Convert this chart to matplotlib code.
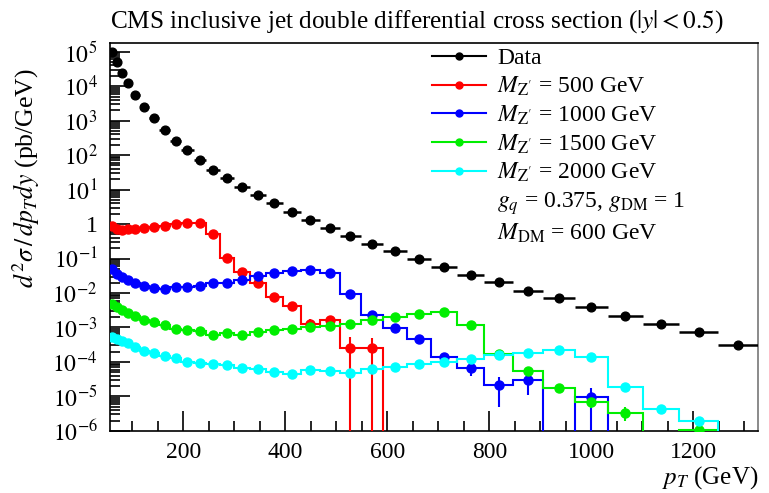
import numpy as np
import matplotlib
matplotlib.use("Agg")
import matplotlib.pyplot as plt
from matplotlib.lines import Line2D
from matplotlib.ticker import FixedLocator, MultipleLocator, FuncFormatter, LogLocator, NullFormatter

plt.rcParams['font.family'] = ['Liberation Serif', 'DejaVu Serif']
plt.rcParams['mathtext.fontset'] = 'stix'

# pT bin edges (GeV)
edges = [56, 64, 74, 84, 97, 114, 133, 153, 174, 196, 220, 245, 272, 300, 330,
         362, 395, 430, 468, 507, 548, 592, 638, 686, 737, 790, 846, 905, 967,
         1032, 1101, 1172, 1248, 1327]

# CMS data, pb/GeV
data = [9.5e4, 4.9e4, 2.4e4, 1.23e4, 5.6e3, 2.57e3, 1.2e3, 540, 258, 141, 73,
        37, 22, 12, 6.9, 4.1, 2.2, 1.3, 0.77, 0.45, 0.26, 0.165, 0.096, 0.056,
        0.033, 0.0205, 0.0113, 0.0071, 0.0039, 0.0021, 0.0013, 7.2e-4, 3.0e-4]

# signal, M_Z' = 500 / 1000 / 1500 / 2000 GeV
m500 = [0.87, 0.72, 0.68, 0.70, 0.73, 0.76, 0.80, 0.87, 1.0, 1.09, 1.09, 0.50,
        0.107, 0.040, 0.020, 0.0078, 0.0043, 0.0013, 0.0016, 2.6e-4, 2.5e-4,
        0, 0, 0, 0, 0, 0, 0, 0, 0, 0, 0, 0]
m1000 = [0.051, 0.035, 0.029, 0.024, 0.019, 0.016, 0.014, 0.0135, 0.0145, 0.015,
         0.016, 0.0196, 0.0196, 0.024, 0.031, 0.038, 0.043, 0.046, 0.038, 0.0093,
         0.0023, 9.7e-4, 4.6e-4, 1.35e-4, 6.5e-5, 2.1e-5, 2.9e-5, 0, 9.3e-6,
         0, 0, 0, 0]
m1500 = [0.0049, 0.0039, 0.0032, 0.0026, 0.0021, 0.0016, 0.00145, 0.0012, 9.3e-4,
         8.3e-4, 7.8e-4, 6.2e-4, 7.1e-4, 6.2e-4, 7.4e-4, 8.3e-4, 8.9e-4, 1.03e-3,
         1.1e-3, 1.3e-3, 1.7e-3, 2.0e-3, 2.4e-3, 2.8e-3, 1.2e-3, 1.74e-4, 5.3e-5,
         1.8e-5, 6.7e-6, 3.4e-6, 0, 1.05e-6, 0]
m2000 = [5.3e-4, 4.6e-4, 4.0e-4, 3.5e-4, 2.7e-4, 2.1e-4, 1.8e-4, 1.45e-4, 1.26e-4,
         9.7e-5, 9.1e-5, 8.5e-5, 7.9e-5, 6.5e-5, 6.1e-5, 5.0e-5, 4.4e-5, 5.7e-5,
         5.3e-5, 4.9e-5, 6.2e-5, 7.0e-5, 8.5e-5, 1.0e-4, 1.22e-4, 1.58e-4, 1.8e-4,
         2.15e-4, 1.35e-4, 1.85e-5, 4.4e-6, 1.95e-6, 0]

# statistical uncertainties of the signal samples
m500_err = [0] * 17 + [5e-4, 4e-4, 2.6e-4, 2.5e-4] + [0] * 12
m1000_err = [0] * 22 + [5e-5, 2e-5, 2.5e-5, 1.6e-5, 1.8e-5, 0, 8.5e-6, 0, 0, 0, 0]
m1500_err = [0] * 27 + [3e-6, 2e-6, 1.5e-6, 0, 0.8e-6, 0]
m2000_err = [0] * 29 + [2e-6, 1e-6, 0.5e-6, 0]

signals = [
    (m500, m500_err, 'red', r'$M_{\mathrm{Z}^{\prime}}$ = 500 GeV'),
    (m1000, m1000_err, 'blue', r'$M_{\mathrm{Z}^{\prime}}$ = 1000 GeV'),
    (m1500, m1500_err, '#00ee00', r'$M_{\mathrm{Z}^{\prime}}$ = 1500 GeV'),
    (m2000, m2000_err, 'cyan', r'$M_{\mathrm{Z}^{\prime}}$ = 2000 GeV'),
]

edges_a = np.array(edges, dtype=float)
centers = 0.5 * (edges_a[1:] + edges_a[:-1])
halfw = 0.5 * (edges_a[1:] - edges_a[:-1])

fig = plt.figure(figsize=(7.69, 4.93), dpi=100)
ax = fig.add_axes([0.143, 0.126, 0.843, 0.787])
ax.set_yscale('log')

handles = []
labels = []

ax.errorbar(centers, data, xerr=halfw, fmt='o', color='black', ms=6.3,
            elinewidth=1.8, capsize=0, zorder=6)
handles.append(Line2D([], [], color='black', marker='o', ms=5, lw=1.5))
labels.append('Data')

for vals, errs, col, lab in signals:
    v = np.array(vals, dtype=float)
    e = np.array(errs, dtype=float)
    ax.stairs(np.clip(v, 1e-12, None), edges_a, baseline=None, color=col, lw=1.5, zorder=3)
    ok = v > 0
    ax.errorbar(centers[ok], v[ok], yerr=e[ok], fmt='o', color=col, ms=6.5,
                elinewidth=1.5, capsize=0, zorder=4)
    handles.append(Line2D([], [], color=col, marker='o', ms=5, lw=1.5))
    labels.append(lab)

blank = Line2D([], [], color='none', marker=None, lw=0)
handles += [blank, blank]
labels += [r'$g_q$ = 0.375, $g_{\mathrm{DM}}$ = 1', r'$M_{\mathrm{DM}}$ = 600 GeV']

ax.legend(handles, labels, loc='upper left', bbox_to_anchor=(0.497, 0.987),
          frameon=False, fontsize=17, borderpad=0, borderaxespad=0,
          handlelength=2.3, handletextpad=0.45, labelspacing=0.23)

ax.set_xlim(56, 1327)
ax.set_ylim(1e-6, 1.8e5)

ax.xaxis.set_major_locator(FixedLocator([200, 400, 600, 800, 1000, 1200]))
ax.xaxis.set_minor_locator(MultipleLocator(50))
ax.yaxis.set_major_locator(FixedLocator([10.0 ** k for k in range(-6, 6)]))
ax.yaxis.set_minor_locator(LogLocator(base=10, subs=np.arange(2, 10), numticks=30))
ax.yaxis.set_minor_formatter(NullFormatter())


def ylab(val, pos):
    k = int(round(np.log10(val)))
    return '1' if k == 0 else r'$10^{%d}$' % k


ax.yaxis.set_major_formatter(FuncFormatter(ylab))

ax.tick_params(which='both', direction='in', top=False, right=False,
               labelsize=17, width=1.2)
ax.tick_params(which='major', length=14.5)
ax.tick_params(which='minor', length=7)
ax.tick_params(axis='x', pad=8)
ax.tick_params(axis='y', pad=9)

for s in ['left', 'bottom', 'top']:
    ax.spines[s].set_linewidth(1.2)
ax.spines['right'].set_color('#777777')
ax.spines['right'].set_linewidth(1.2)

ax.set_title(r'CMS inclusive jet double differential cross section ($|y| < 0.5$)',
             fontsize=18.2, pad=11, loc='left')
ax.set_xlabel(r'$p_T$ (GeV)', fontsize=18, ha='right', va='center')
ax.xaxis.set_label_coords(1.0, -0.12)
ax.set_ylabel(r'$d^2\sigma\,/\,dp_T dy$ (pb/GeV)', fontsize=18.5, ha='right')
ax.yaxis.set_label_coords(-0.105, 0.935)

fig.savefig('out.png', dpi=100)
